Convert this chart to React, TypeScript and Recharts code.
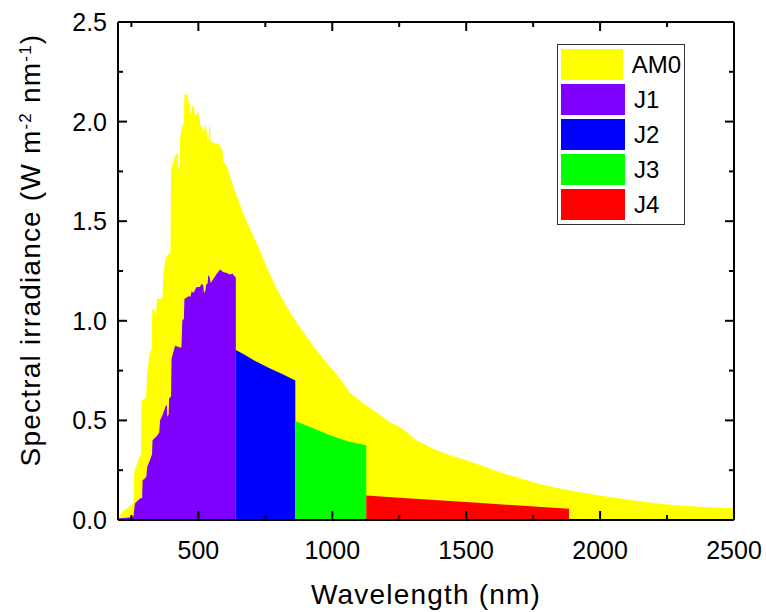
import React from 'react';
import { ComposedChart, Area, XAxis, YAxis, Label, Legend } from 'recharts';

// Spectral irradiance in W m^-2 nm^-1, sampled at wavelength (nm)
const am0Spectrum: [number, number][] = [
  [200, 0.0], [201, 0.014], [220, 0.044], [238, 0.064], [255, 0.081], [258, 0.09],
  [260, 0.24], [280, 0.316], [286, 0.33], [288, 0.6], [301, 0.61], [305, 0.62],
  [309, 0.74], [319, 0.84], [326, 0.86], [328, 1.06], [338, 1.05], [342, 1.02],
  [345, 1.11], [360, 1.11], [366, 1.12], [369, 1.23], [379, 1.32], [392, 1.34],
  [396, 1.34], [398, 1.76], [409, 1.81], [417, 1.84], [423, 1.84], [425, 1.76],
  [430, 1.78], [432, 1.92], [440, 1.98], [446, 1.99], [448, 2.135], [456, 2.14],
  [460, 2.13], [463, 2.1], [469, 2.09], [471, 2.04], [475, 2.04], [478, 2.085],
  [484, 2.07], [487, 2.03], [493, 2.03], [496, 2.05], [502, 2.04], [506, 1.99],
  [514, 1.97], [516, 1.95], [523, 1.96], [525, 1.985], [530, 1.97], [533, 1.9],
  [538, 1.91], [541, 1.99], [544, 1.98], [546, 1.9], [562, 1.89], [575, 1.89],
  [581, 1.875], [590, 1.86], [593, 1.8], [606, 1.78], [618, 1.73], [631, 1.67],
  [643, 1.63], [656, 1.58], [674, 1.52], [690, 1.47], [718, 1.39], [755, 1.27],
  [793, 1.16], [830, 1.07], [867, 0.99], [905, 0.92], [942, 0.85], [979, 0.79],
  [1017, 0.73], [1066, 0.64], [1116, 0.585], [1166, 0.54], [1216, 0.49], [1253, 0.467],
  [1278, 0.44], [1315, 0.4], [1377, 0.358], [1440, 0.325], [1502, 0.3], [1564, 0.27],
  [1626, 0.24], [1689, 0.215], [1751, 0.19], [1813, 0.168], [1875, 0.152], [1937, 0.137],
  [2000, 0.123], [2062, 0.11], [2124, 0.098], [2186, 0.088], [2249, 0.078], [2311, 0.071],
  [2373, 0.066], [2435, 0.063], [2500, 0.059],
];

// portion of the spectrum absorbed by each junction
const j1Spectrum: [number, number][] = [
  [200, 0.0], [201, 0.008], [251, 0.014], [258, 0.02], [263, 0.083], [282, 0.108],
  [290, 0.11], [292, 0.2], [301, 0.21], [306, 0.22], [309, 0.266], [319, 0.3],
  [327, 0.33], [329, 0.4], [344, 0.42], [350, 0.43], [354, 0.44], [357, 0.5],
  [367, 0.53], [379, 0.575], [383, 0.575], [384, 0.52], [389, 0.53], [391, 0.61],
  [398, 0.62], [400, 0.81], [413, 0.875], [425, 0.87], [434, 0.865], [437, 0.87],
  [440, 1.0], [446, 1.01], [448, 1.11], [459, 1.12], [466, 1.125], [470, 1.12],
  [475, 1.15], [481, 1.14], [494, 1.17], [506, 1.17], [512, 1.185], [518, 1.18],
  [521, 1.14], [526, 1.15], [529, 1.18], [535, 1.19], [537, 1.23], [542, 1.22],
  [546, 1.19], [556, 1.21], [568, 1.235], [581, 1.257], [593, 1.245], [606, 1.24],
  [618, 1.233], [628, 1.236], [640, 1.216],
];
const j2Spectrum: [number, number][] = [
  [640, 0.853], [668, 0.833], [718, 0.794], [768, 0.76], [817, 0.73], [862, 0.7],
];
const j3Spectrum: [number, number][] = [
  [862, 0.497], [917, 0.467], [992, 0.425], [1054, 0.397], [1127, 0.375],
];
const j4Spectrum: [number, number][] = [
  [1127, 0.123], [1250, 0.112], [1500, 0.09], [1884, 0.056],
];

const seriesNames = ['AM0', 'J1', 'J2', 'J3', 'J4'];
const seriesColors = ['#ffff00', '#8000ff', '#0000ff', '#00ff00', '#ff0000'];
const seriesData = [am0Spectrum, j1Spectrum, j2Spectrum, j3Spectrum, j4Spectrum];

const xTicks = [250, 500, 750, 1000, 1250, 1500, 1750, 2000, 2250, 2500];
const yTicks = [0, 0.25, 0.5, 0.75, 1, 1.25, 1.5, 1.75, 2, 2.25, 2.5];

const W = 766;
const H = 612;
const PLOT = { left: 118, right: 734, top: 22, bottom: 520 };
const FONT = '"Liberation Sans", Arial, sans-serif';
const MAJOR = 9;
const MINOR = 5;

const toRows = (pts: [number, number][]) => pts.map(([nm, v]) => ({ nm, v }));

const isMajorY = (v: number) => Math.abs(v * 2 - Math.round(v * 2)) < 1e-6;
const isMajorX = (v: number) => v % 500 === 0;

const LeftTick = (props: any) => {
  const { y, payload } = props;
  const major = isMajorY(payload.value);
  return (
    <g>
      <line x1={PLOT.left} x2={PLOT.left + (major ? MAJOR : MINOR)} y1={y} y2={y} stroke="#000" strokeWidth={2} />
      {major && (
        <text x={PLOT.left - 11} y={y + 9} textAnchor="end" fontSize={25} fontFamily={FONT} fill="#000">
          {payload.value.toFixed(1)}
        </text>
      )}
    </g>
  );
};

const RightTick = (props: any) => {
  const { y, payload } = props;
  const len = isMajorY(payload.value) ? MAJOR : MINOR;
  return <line x1={PLOT.right - len} x2={PLOT.right} y1={y} y2={y} stroke="#000" strokeWidth={2} />;
};

const BottomTick = (props: any) => {
  const { x, payload } = props;
  const major = isMajorX(payload.value);
  return (
    <g>
      <line x1={x} x2={x} y1={PLOT.bottom} y2={PLOT.bottom - (major ? MAJOR : MINOR)} stroke="#000" strokeWidth={2} />
      {major && (
        <text x={x} y={PLOT.bottom + 39} textAnchor="middle" fontSize={25} fontFamily={FONT} fill="#000">
          {payload.value}
        </text>
      )}
    </g>
  );
};

const TopTick = (props: any) => {
  const { x, payload } = props;
  const len = isMajorX(payload.value) ? MAJOR : MINOR;
  return <line x1={x} x2={x} y1={PLOT.top} y2={PLOT.top + len} stroke="#000" strokeWidth={2} />;
};

const YTitle = () => (
  <text
    transform={`translate(40, 250) rotate(-90)`}
    textAnchor="middle"
    fontSize={28}
    letterSpacing={1.2}
    fontFamily={FONT}
    fill="#000"
  >
    Spectral irradiance (W m
    <tspan baselineShift="super" fontSize={17}>-2</tspan>
    {' nm'}
    <tspan baselineShift="super" fontSize={17}>-1</tspan>)
  </text>
);

const XTitle = () => (
  <text x={426} y={604} textAnchor="middle" fontSize={28} letterSpacing={1.2} fontFamily={FONT} fill="#000">
    Wavelength (nm)
  </text>
);

const LegendBox = () => (
  <div
    style={{
      border: '1px solid #333',
      background: '#fff',
      padding: '2px 3px',
      width: 128,
      boxSizing: 'border-box',
    }}
  >
    {seriesNames.map((name, i) => (
      <div key={name} style={{ display: 'flex', alignItems: 'center', height: 35 }}>
        <div style={{ width: 64, height: 31, background: seriesColors[i] }} />
        <span style={{ marginLeft: 9, fontSize: 24, fontFamily: FONT, color: '#000' }}>{name}</span>
      </div>
    ))}
  </div>
);

const axisLine = { stroke: '#000', strokeWidth: 2 };

export default function App() {
  return (
    <div style={{ position: 'absolute', left: 0, top: 0, width: W, height: H, background: '#fff' }}>
      <ComposedChart width={W} height={H} margin={{ top: 0, right: 0, bottom: 0, left: 0 }}>
        <XAxis
          xAxisId="bottom"
          type="number"
          dataKey="nm"
          domain={[200, 2500]}
          ticks={xTicks}
          interval={0}
          height={H - PLOT.bottom}
          axisLine={axisLine}
          tickLine={false}
          tick={<BottomTick />}
          allowDataOverflow
        >
          <Label content={<XTitle />} />
        </XAxis>
        <XAxis
          xAxisId="top"
          orientation="top"
          type="number"
          dataKey="nm"
          domain={[200, 2500]}
          ticks={xTicks}
          interval={0}
          height={PLOT.top}
          axisLine={axisLine}
          tickLine={false}
          tick={<TopTick />}
          allowDataOverflow
        />
        <YAxis
          yAxisId="left"
          type="number"
          domain={[0, 2.5]}
          ticks={yTicks}
          interval={0}
          width={PLOT.left}
          axisLine={axisLine}
          tickLine={false}
          tick={<LeftTick />}
          allowDataOverflow
        >
          <Label content={<YTitle />} />
        </YAxis>
        <YAxis
          yAxisId="right"
          orientation="right"
          type="number"
          domain={[0, 2.5]}
          ticks={yTicks}
          interval={0}
          width={W - PLOT.right}
          axisLine={axisLine}
          tickLine={false}
          tick={<RightTick />}
          allowDataOverflow
        />
        {seriesNames.map((name, i) => (
          <Area
            key={name}
            name={name}
            data={toRows(seriesData[i])}
            dataKey="v"
            xAxisId="bottom"
            yAxisId="left"
            type="linear"
            baseValue={0}
            stroke="none"
            fill={seriesColors[i]}
            fillOpacity={1}
            isAnimationActive={false}
          />
        ))}
        <Legend
          layout="vertical"
          align="center"
          verticalAlign="middle"
          content={<LegendBox />}
          wrapperStyle={{ left: 557, top: 44, width: 128 }}
        />
      </ComposedChart>
    </div>
  );
}
